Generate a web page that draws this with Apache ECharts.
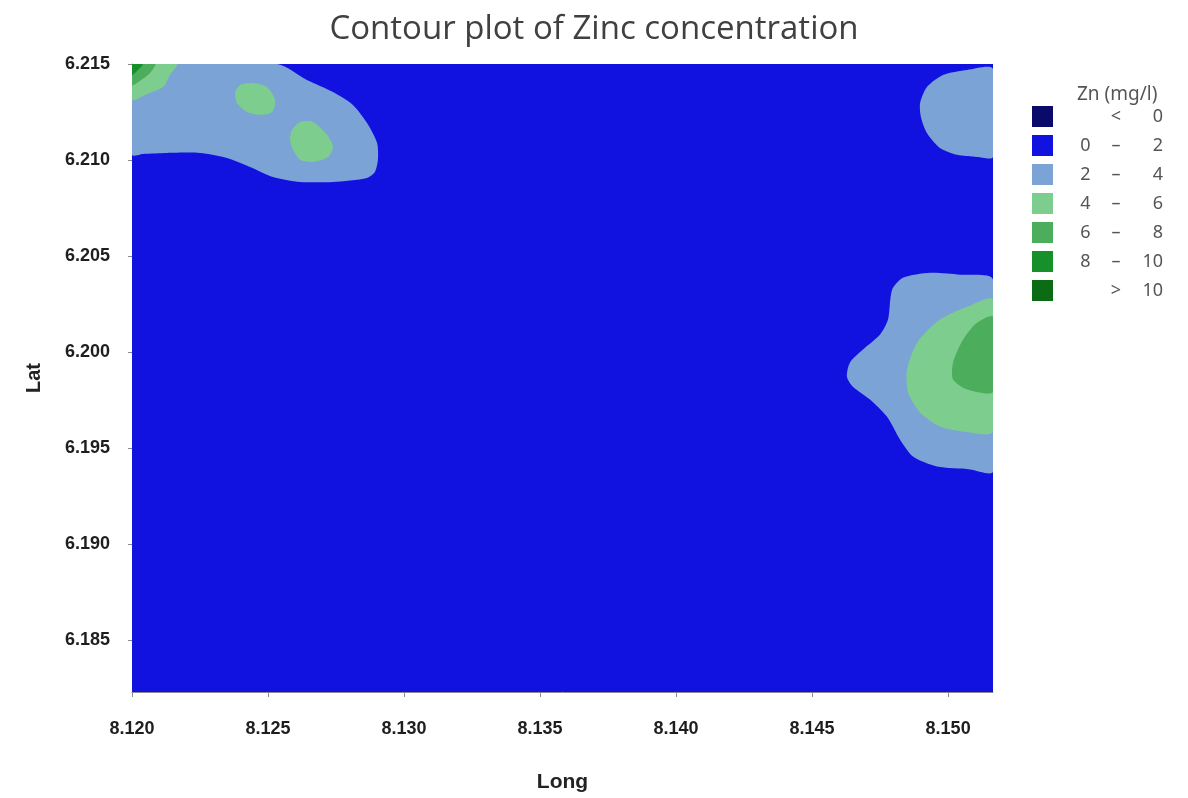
<!DOCTYPE html>
<html>
<head>
<meta charset="utf-8">
<title>Contour plot of Zinc concentration</title>
<script src="https://cdn.jsdelivr.net/npm/echarts@6/dist/echarts.min.js"></script>
<style>
  html, body { margin: 0; padding: 0; background: #fff; }
  #chart { width: 1188px; height: 798px; }
</style>
</head>
<body>
<div id="chart"></div>
<script>
// axis extents and ticks (Long / Lat)
const longMin = 8.120
const longMax = 8.15165
const latMin = 6.1823
const latMax = 6.215
const longTicks = [8.120, 8.125, 8.130, 8.135, 8.140, 8.145, 8.150]
const latTicks = [6.185, 6.190, 6.195, 6.200, 6.205, 6.210, 6.215]

// legend classes, Zn (mg/l)
const zincLabels = ['{a|}{b|<}{c|0}', '{a|0}{b|–}{c|2}', '{a|2}{b|–}{c|4}', '{a|4}{b|–}{c|6}',
  '{a|6}{b|–}{c|8}', '{a|8}{b|–}{c|10}', '{a|}{b|>}{c|10}']
const zincColors = ['#0a0a6b', '#1111e0', '#7ba3d6', '#7dcd8e', '#4cae5c', '#15902a', '#0b6c15']

// contour boundaries, [long, lat]
const nwBand24 = [
  [8.12000, 6.21500], [8.12533, 6.21500], [8.12643, 6.21417], [8.12739, 6.21354],
  [8.12812, 6.21287], [8.12864, 6.21193], [8.12901, 6.21089], [8.12904, 6.21001],
  [8.12893, 6.20938], [8.12864, 6.20907], [8.12739, 6.20886], [8.12618, 6.20886],
  [8.12518, 6.20912], [8.12434, 6.20964], [8.12349, 6.21011], [8.12250, 6.21037],
  [8.12129, 6.21037], [8.12040, 6.21032], [8.12000, 6.21027]
]
const nwSpotA46 = [
  [8.12379, 6.21349], [8.12397, 6.21391], [8.12445, 6.21401], [8.12496, 6.21380],
  [8.12526, 6.21313], [8.12515, 6.21250], [8.12471, 6.21235], [8.12423, 6.21250],
  [8.12386, 6.21297]
]
const nwSpotB46 = [
  [8.12588, 6.21157], [8.12618, 6.21198], [8.12665, 6.21198], [8.12717, 6.21131],
  [8.12739, 6.21068], [8.12721, 6.21016], [8.12665, 6.20990], [8.12618, 6.21001],
  [8.12592, 6.21053], [8.12581, 6.21105]
]
const nwCorner46 = [
  [8.12000, 6.21500], [8.12165, 6.21500], [8.12140, 6.21443], [8.12114, 6.21380],
  [8.12048, 6.21339], [8.12000, 6.21313]
]
const nwCorner68 = [
  [8.12000, 6.21500], [8.12085, 6.21500], [8.12066, 6.21453], [8.12029, 6.21412],
  [8.12000, 6.21391]
]
const nwCorner810 = [
  [8.12000, 6.21500], [8.12040, 6.21500], [8.12022, 6.21469], [8.12000, 6.21443]
]
const neBand24 = [
  [8.15165, 6.21474], [8.15070, 6.21469], [8.14981, 6.21443], [8.14922, 6.21380],
  [8.14897, 6.21297], [8.14900, 6.21224], [8.14922, 6.21141], [8.14970, 6.21063],
  [8.15033, 6.21027], [8.15106, 6.21016], [8.15165, 6.21016]
]
const eBand24 = [
  [8.15165, 6.20377], [8.15044, 6.20403], [8.14933, 6.20413], [8.14834, 6.20387],
  [8.14794, 6.20325], [8.14779, 6.20169], [8.14750, 6.20091], [8.14687, 6.20013],
  [8.14639, 6.19945], [8.14628, 6.19872], [8.14650, 6.19820], [8.14713, 6.19753],
  [8.14775, 6.19664], [8.14823, 6.19545], [8.14871, 6.19456], [8.14959, 6.19404],
  [8.15081, 6.19389], [8.15165, 6.19378]
]
const eBand46 = [
  [8.15165, 6.20273], [8.15070, 6.20236], [8.14970, 6.20169], [8.14886, 6.20049],
  [8.14849, 6.19909], [8.14853, 6.19789], [8.14897, 6.19685], [8.14970, 6.19612],
  [8.15055, 6.19586], [8.15165, 6.19586]
]
const eBand68 = [
  [8.15165, 6.20184], [8.15106, 6.20153], [8.15055, 6.20065], [8.15018, 6.19945],
  [8.15018, 6.19857], [8.15070, 6.19805], [8.15165, 6.19794]
]
const wholeArea = [[longMin, latMin], [longMax, latMin], [longMax, latMax], [longMin, latMax]]

// drawn in this order, value = middle of the class
const contours = [
  { value: 1, ring: wholeArea },
  { value: 3, ring: nwBand24 },
  { value: 3, ring: neBand24 },
  { value: 3, ring: eBand24 },
  { value: 5, ring: nwSpotA46 },
  { value: 5, ring: nwSpotB46 },
  { value: 5, ring: nwCorner46 },
  { value: 5, ring: eBand46 },
  { value: 7, ring: nwCorner68 },
  { value: 7, ring: eBand68 },
  { value: 9, ring: nwCorner810 }
]

const chart = echarts.init(document.getElementById('chart'))

const pieces = [
  { lt: 0 },
  { gte: 0, lt: 2 },
  { gte: 2, lt: 4 },
  { gte: 4, lt: 6 },
  { gte: 6, lt: 8 },
  { gte: 8, lt: 10 },
  { gte: 10 }
].map(function(p, i) {
  return Object.assign(p, { label: zincLabels[i], color: zincColors[i] })
})

chart.setOption({
  backgroundColor: '#fff',
  animation: false,
  title: [{
    text: 'Contour plot of Zinc concentration',
    left: 'center',
    top: 8,
    textStyle: {
      fontFamily: 'Open Sans',
      fontSize: 33,
      fontWeight: 'normal',
      color: '#404040'
    }
  }, {
    text: 'Zn (mg/l)',
    left: 1072,
    top: 80,
    textStyle: {
      fontFamily: 'Noto Sans',
      fontSize: 19,
      fontWeight: 'normal',
      color: '#555'
    }
  }],
  grid: {
    left: 132,
    right: 195,
    top: 64,
    bottom: 106
  },
  visualMap: {
    type: 'piecewise',
    dimension: 0,
    seriesIndex: 0,
    pieces: pieces,
    inverse: true,
    orient: 'vertical',
    align: 'left',
    left: 1032,
    top: 106,
    padding: 0,
    itemWidth: 21,
    itemHeight: 21,
    itemGap: 8,
    itemSymbol: 'rect',
    textGap: 7,
    selectedMode: false,
    textStyle: {
      fontFamily: 'Noto Sans',
      fontSize: 18,
      color: '#555',
      rich: {
        a: { width: 51, align: 'right', fontFamily: 'Noto Sans', fontSize: 18, color: '#555' },
        b: { width: 10, align: 'center', fontFamily: 'Noto Sans', fontSize: 18, color: '#555' },
        c: { width: 42, align: 'right', fontFamily: 'Noto Sans', fontSize: 18, color: '#555' }
      }
    }
  },
  xAxis: {
    type: 'value',
    min: longMin,
    max: longMax,
    name: 'Long',
    nameLocation: 'middle',
    nameGap: 80,
    nameTextStyle: {
      fontFamily: 'Liberation Sans',
      fontWeight: 'bold',
      fontSize: 21,
      color: '#222'
    },
    axisLine: { show: true, lineStyle: { color: '#8a8a8a', width: 1 } },
    axisTick: { show: true, length: 5, customValues: longTicks, lineStyle: { color: '#8a8a8a' } },
    axisLabel: {
      customValues: longTicks,
      margin: 28,
      fontFamily: 'Liberation Sans',
      fontWeight: 'bold',
      fontSize: 18,
      color: '#1e1e1e',
      formatter: function(v) { return v.toFixed(3) }
    },
    splitLine: { show: false }
  },
  yAxis: {
    type: 'value',
    min: latMin,
    max: latMax,
    name: 'Lat',
    nameLocation: 'middle',
    nameGap: 88,
    nameTextStyle: {
      fontFamily: 'Liberation Sans',
      fontWeight: 'bold',
      fontSize: 20,
      color: '#222'
    },
    axisLine: { show: true, lineStyle: { color: '#8a8a8a', width: 1 } },
    axisTick: { show: true, length: 4, customValues: latTicks, lineStyle: { color: '#8a8a8a' } },
    axisLabel: {
      customValues: latTicks,
      margin: 22,
      fontFamily: 'Liberation Sans',
      fontWeight: 'bold',
      fontSize: 18,
      color: '#1e1e1e',
      formatter: function(v) { return v.toFixed(3) }
    },
    splitLine: { show: false }
  },
  series: [{
    type: 'custom',
    name: 'Zn (mg/l)',
    coordinateSystem: 'cartesian2d',
    clip: true,
    silent: true,
    dimensions: ['level'],
    encode: { x: -1, y: -1 },
    renderItem: function(params, api) {
      const ring = contours[params.dataIndex].ring
      const points = ring.map(function(p) { return api.coord(p) })
      return {
        type: 'polygon',
        shape: { points: points, smooth: 0.25 },
        style: { fill: api.visual('color'), stroke: null }
      }
    },
    data: contours.map(function(c) { return [c.value] })
  }]
})
</script>
</body>
</html>
